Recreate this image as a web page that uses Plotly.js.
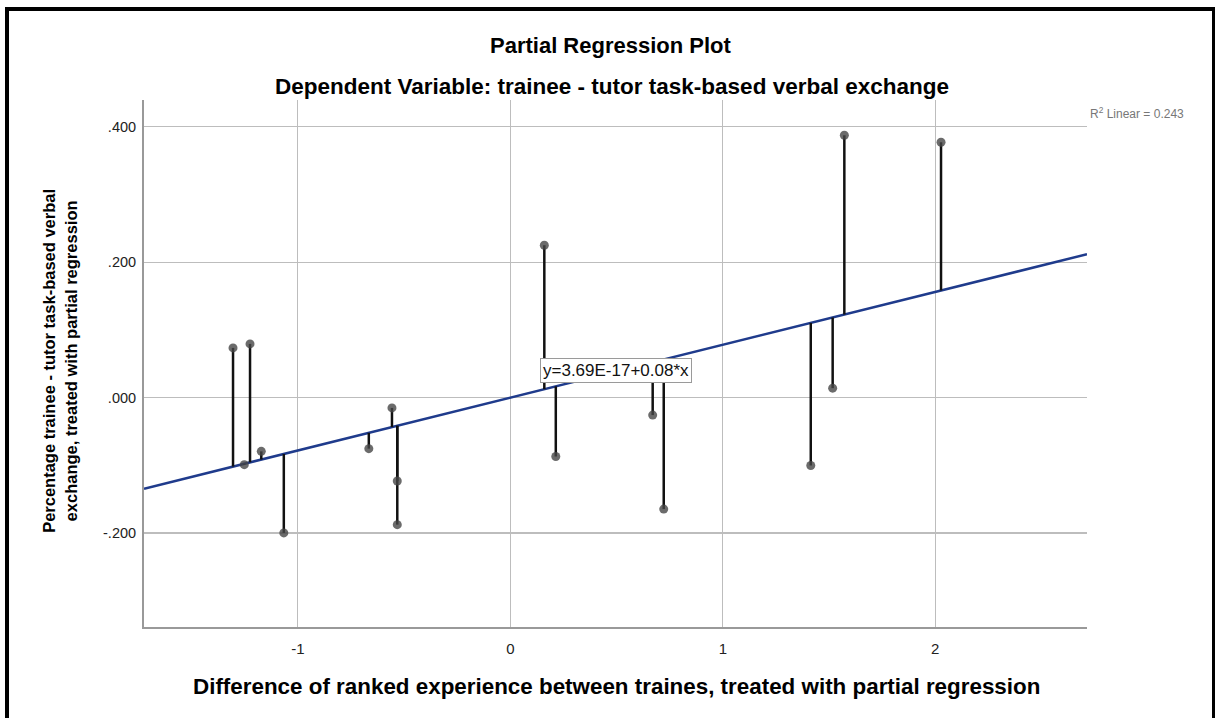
<!DOCTYPE html>
<html>
<head>
<meta charset="utf-8">
<script src="https://cdn.plot.ly/plotly-3.0.1.min.js"></script>
<style>
html,body{margin:0;padding:0;background:#fff;}
#chart{width:1215px;height:718px;}
</style>
</head>
<body>
<div id="chart"></div>
<script>
// Data
const xValues = [-1.305, -1.225, -1.252, -1.172, -1.066, -0.666, -0.557, -0.532, -0.532, 0.160, 0.214, 0.670, 0.722, 1.414, 1.517, 1.572, 2.027];
const yValues = [0.0734, 0.0793, -0.0989, -0.0793, -0.1997, -0.0753, -0.0152, -0.1230, -0.1875, 0.2250, -0.0869, -0.0258, -0.1645, -0.1002, 0.0140, 0.3873, 0.3770];
const fitIntercept = 3.69e-17;
const fitSlope = 0.078;
const xRange = [-1.724, 2.714];
const yRange = [-0.3386, 0.4394];
const xTickVals = [-1, 0, 1, 2];
const xTickText = ["-1", "0", "1", "2"];
const yTickVals = [-0.2, 0, 0.2, 0.4];
const yTickText = ["-.200", ".000", ".200", ".400"];
const titleText = "Partial Regression Plot";
const subtitleText = "Dependent Variable: trainee - tutor task-based verbal exchange";
const xTitle = "Difference of ranked experience between traines, treated with partial regression";
const yTitle = "Percentage trainee - tutor task-based verbal<br>exchange, treated with partial regression";
const equationText = "y=3.69E-17+0.08*x";
const r2Text = "R<sup>2</sup> Linear = 0.243";

const fit = x => fitIntercept + fitSlope * x;

// stems from each point to the fit line
const stemX = [], stemY = [];
xValues.forEach((x, i) => {
  stemX.push(x, x, null);
  stemY.push(yValues[i], fit(x), null);
});

const FONT = "Liberation Sans, Arial, sans-serif";

const traces = [
  {
    x: xRange, y: xRange.map(fit), mode: "lines", type: "scatter",
    line: {color: "#1f3b8c", width: 2.5}, hoverinfo: "skip", showlegend: false
  },
  {
    x: stemX, y: stemY, mode: "lines", type: "scatter",
    line: {color: "#111111", width: 2.5}, hoverinfo: "skip", showlegend: false, connectgaps: false
  },
  {
    x: xValues, y: yValues, mode: "markers", type: "scatter",
    marker: {color: "rgba(70,70,70,0.8)", size: 9, line: {width: 0}},
    showlegend: false
  }
];

const layout = {
  width: 1215, height: 718,
  margin: {l: 144, r: 128, t: 100, b: 91},
  paper_bgcolor: "#ffffff", plot_bgcolor: "#ffffff",
  font: {family: FONT, color: "#000"},
  showlegend: false,
  xaxis: {
    range: xRange, tickvals: xTickVals, ticktext: xTickText,
    showgrid: true, gridcolor: "#bdbdbd", gridwidth: 1.3,
    zeroline: false, showline: true, linecolor: "#999999", linewidth: 2,
    ticks: "", ticklabelstandoff: 7,
    tickfont: {family: FONT, size: 15, color: "#222"},
    title: {text: "", font: {family: FONT, size: 21}}
  },
  yaxis: {
    range: yRange, tickvals: yTickVals, ticktext: yTickText,
    showgrid: true, gridcolor: "#bdbdbd", gridwidth: 1.3,
    zeroline: false, showline: true, linecolor: "#999999", linewidth: 2,
    ticks: "", ticklabelstandoff: 3,
    tickfont: {family: FONT, size: 14.5, color: "#222"},
    title: {text: "", font: {family: FONT, size: 17}}
  },
  annotations: [
    {text: "<b>" + titleText + "</b>", xref: "paper", yref: "paper",
     x: (610.5 - 144) / 943, y: (627.3 - 45) / 527.3, xanchor: "center", yanchor: "middle",
     showarrow: false, font: {family: FONT, size: 22, color: "#000"}},
    {text: "<b>" + subtitleText + "</b>", xref: "paper", yref: "paper",
     x: (611.5 - 144) / 943, y: (627.3 - 86) / 527.3, xanchor: "center", yanchor: "middle",
     showarrow: false, font: {family: FONT, size: 22.5, color: "#000"}},
    {text: "<b>" + xTitle + "</b>", xref: "paper", yref: "paper",
     x: (616 - 144) / 943, y: (627.3 - 687) / 527.3, xanchor: "center", yanchor: "middle",
     showarrow: false, font: {family: FONT, size: 22.4, color: "#000"}},
    {text: "<b>" + yTitle + "</b>", xref: "paper", yref: "paper",
     x: (60 - 144) / 943, y: (627.3 - 361) / 527.3, xanchor: "center", yanchor: "middle",
     textangle: -90, showarrow: false, font: {family: FONT, size: 16.5, color: "#000"}},
    {text: equationText, xref: "x", yref: "y",
     x: 0.497, y: 0.0395, xanchor: "center", yanchor: "middle",
     showarrow: false, bgcolor: "#ffffff", bordercolor: "#9a9a9a", borderwidth: 1, borderpad: 2,
     font: {family: FONT, size: 17, color: "#111"}},
    {text: r2Text, xref: "paper", yref: "paper",
     x: (1088 - 144) / 943, y: (627.3 - 113) / 527.3, xanchor: "left", yanchor: "middle",
     showarrow: false, font: {family: FONT, size: 12, color: "#777"}}
  ],
  shapes: [
    {type: "rect", xref: "paper", yref: "paper",
     x0: (7 - 144) / 943, x1: (1214 - 144) / 943,
     y0: (627.3 - 730) / 527.3, y1: (627.3 - 9) / 527.3,
     line: {color: "#000", width: 4}, fillcolor: "rgba(0,0,0,0)", layer: "above"}
  ]
};

Plotly.newPlot("chart", traces, layout, {displayModeBar: false, staticPlot: true});
</script>
</body>
</html>
